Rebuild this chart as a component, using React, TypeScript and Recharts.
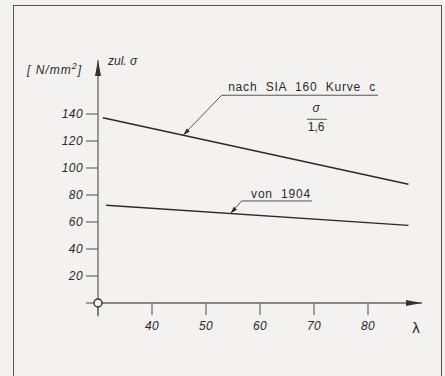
import React from 'react';
import { LineChart, Line, XAxis, YAxis, ReferenceLine, ReferenceDot } from 'recharts';

// ---- data ----
const LAMBDA_SIA = [30.9, 87.5];
const SIGMA_SIA = [137.3, 87.9];
const LAMBDA_1904 = [31.5, 87.5];
const SIGMA_1904 = [72.4, 57.5];
const X_TICKS = [30, 40, 50, 60, 70, 80];
const Y_TICKS = [0, 20, 40, 60, 80, 100, 120, 140];
const X_DOMAIN = [30, 90];
const Y_DOMAIN = [0, 180];

// ---- texts ----
const LABEL_SIA = 'nach  SIA  160  Kurve  c';
const LABEL_1904 = 'von  1904';
const FRAC_NUM = 'σ';
const FRAC_DEN = '1,6';
const Y_TITLE = 'zul. σ';
const Y_UNIT_MAIN = '[ N/mm';
const Y_UNIT_SUP = '2';
const Y_UNIT_END = ']';
const X_TITLE = 'λ';

// ---- annotation anchors (data coordinates) ----
const SIA_LEADER = [
  { x: 45.8, y: 124.5 },
  { x: 52.9, y: 153.9 },
  { x: 81.85, y: 153.9 },
];
const V1904_LEADER = [
  { x: 54.57, y: 66.4 },
  { x: 56.6, y: 75.6 },
  { x: 69.6, y: 75.6 },
];
const SIA_TEXT_POS = { x: 67.8, y: 160.0 };
const FRAC_NUM_POS = { x: 70.4, y: 144.2 };
const FRAC_BAR = [{ x: 68.7, y: 136.1 }, { x: 72.4, y: 136.1 }];
const FRAC_DEN_POS = { x: 70.4, y: 130.1 };
const V1904_TEXT_POS = { x: 63.9, y: 81.0 };
const Y_UNIT_POS = { x: 27.04, y: 172.4 };
const Y_TITLE_POS = { x: 31.85, y: 179.0 };
const X_TITLE_POS = { x: 88.9, y: -17.9 };

const siaData = LAMBDA_SIA.map((x, i) => ({ x, y: SIGMA_SIA[i] }));
const data1904 = LAMBDA_1904.map((x, i) => ({ x, y: SIGMA_1904[i] }));

const BG = '#f4f2f1';
const INK = '#2a2a2a';
const AXIS = '#666';
const FONT = '"Liberation Sans", Arial, sans-serif';

const textShape = (content: React.ReactNode, opts: any = {}) => (p: any) => (
  <text
    x={p.cx}
    y={p.cy}
    fill={INK}
    fontFamily={FONT}
    fontSize={opts.fontSize ?? 12}
    fontStyle={opts.italic ? 'italic' : 'normal'}
    textAnchor={opts.anchor ?? 'middle'}
    dominantBaseline="central"
    letterSpacing={opts.spacing ?? 0}
    style={{ whiteSpace: 'pre' }}
  >
    {content}
  </text>
);

const arrowHead = (angle: number, len = 7, half = 2.2, color = INK) => (p: any) => (
  <polygon
    points={`0,0 ${-len},${-half} ${-len},${half}`}
    transform={`translate(${p.cx},${p.cy}) rotate(${angle})`}
    fill={color}
  />
);

const originCircle = (p: any) => (
  <circle cx={p.cx} cy={p.cy} r={4} fill={BG} stroke="#333" strokeWidth={1.4} />
);

export default function App() {
  return (
    <div
      style={{
        position: 'fixed',
        left: 0,
        top: 0,
        width: 445,
        height: 376,
        background: BG,
        overflow: 'hidden',
      }}
    >
      <div
        style={{
          position: 'absolute',
          left: 13,
          top: 5,
          width: 429,
          height: 420,
          border: '1.6px solid #555',
          boxSizing: 'border-box',
        }}
      />
      <div style={{ position: 'absolute', left: 0, top: 0 }}>
        <LineChart width={445} height={376} margin={{ top: 60, right: 23, bottom: 0, left: 0 }}>
          <XAxis
            type="number"
            dataKey="x"
            domain={X_DOMAIN}
            ticks={X_TICKS}
            allowDataOverflow
            height={73}
            tickSize={12}
            tickMargin={6}
            tickFormatter={(v: number) => (v === 30 ? '' : String(v))}
            axisLine={{ stroke: AXIS, strokeWidth: 1.3 }}
            tickLine={{ stroke: AXIS, strokeWidth: 1.2 }}
            tick={{ fill: INK, fontSize: 12, fontStyle: 'italic', fontFamily: FONT, letterSpacing: 0.4 }}
          />
          <YAxis
            type="number"
            domain={Y_DOMAIN}
            ticks={Y_TICKS}
            allowDataOverflow
            width={98}
            tickSize={12}
            tickMargin={3}
            tickFormatter={(v: number) => (v === 0 ? '' : String(v))}
            axisLine={{ stroke: AXIS, strokeWidth: 1.3 }}
            tickLine={{ stroke: AXIS, strokeWidth: 1.2 }}
            tick={{ fill: INK, fontSize: 12, fontStyle: 'italic', fontFamily: FONT, letterSpacing: 0.4 }}
          />
          <Line
            data={siaData}
            dataKey="y"
            type="linear"
            stroke={INK}
            strokeWidth={1.5}
            dot={false}
            isAnimationActive={false}
          />
          <Line
            data={data1904}
            dataKey="y"
            type="linear"
            stroke={INK}
            strokeWidth={1.5}
            dot={false}
            isAnimationActive={false}
          />

          {/* axis extensions */}
          <ReferenceLine
            segment={[{ x: 30, y: 0 }, { x: 30, y: -10 }]}
            stroke={AXIS}
            strokeWidth={1.3}
            ifOverflow="visible"
          />
          <ReferenceDot x={X_DOMAIN[1]} y={0} r={0} ifOverflow="visible" shape={arrowHead(0, 16, 3, '#333')} />
          <ReferenceDot x={30} y={Y_DOMAIN[1]} r={0} ifOverflow="visible" shape={arrowHead(-90, 16, 3, '#333')} />
          <ReferenceDot x={30} y={0} r={4} ifOverflow="visible" shape={originCircle} />

          {/* SIA leader */}
          <ReferenceLine segment={[SIA_LEADER[0], SIA_LEADER[1]]} stroke="#555" strokeWidth={1} ifOverflow="visible" />
          <ReferenceLine segment={[SIA_LEADER[1], SIA_LEADER[2]]} stroke="#555" strokeWidth={1} ifOverflow="visible" />
          <ReferenceDot x={SIA_LEADER[0].x} y={SIA_LEADER[0].y} r={0} ifOverflow="visible" shape={arrowHead(135)} />
          <ReferenceDot
            x={SIA_TEXT_POS.x}
            y={SIA_TEXT_POS.y}
            r={0}
            ifOverflow="visible"
            shape={textShape(LABEL_SIA, { spacing: 0.8 })}
          />
          <ReferenceDot
            x={FRAC_NUM_POS.x}
            y={FRAC_NUM_POS.y}
            r={0}
            ifOverflow="visible"
            shape={textShape(FRAC_NUM, { italic: true })}
          />
          <ReferenceLine segment={FRAC_BAR} stroke="#555" strokeWidth={1} ifOverflow="visible" />
          <ReferenceDot
            x={FRAC_DEN_POS.x}
            y={FRAC_DEN_POS.y}
            r={0}
            ifOverflow="visible"
            shape={textShape(FRAC_DEN)}
          />

          {/* 1904 leader */}
          <ReferenceLine segment={[V1904_LEADER[0], V1904_LEADER[1]]} stroke="#555" strokeWidth={1} ifOverflow="visible" />
          <ReferenceLine segment={[V1904_LEADER[1], V1904_LEADER[2]]} stroke="#555" strokeWidth={1} ifOverflow="visible" />
          <ReferenceDot x={V1904_LEADER[0].x} y={V1904_LEADER[0].y} r={0} ifOverflow="visible" shape={arrowHead(132)} />
          <ReferenceDot
            x={V1904_TEXT_POS.x}
            y={V1904_TEXT_POS.y}
            r={0}
            ifOverflow="visible"
            shape={textShape(LABEL_1904, { spacing: 0.8 })}
          />

          {/* axis titles */}
          <ReferenceDot
            x={Y_UNIT_POS.x}
            y={Y_UNIT_POS.y}
            r={0}
            ifOverflow="visible"
            shape={textShape(
              <>
                {Y_UNIT_MAIN}
                <tspan dy={-4} fontSize={9}>{Y_UNIT_SUP}</tspan>
                <tspan dy={4}>{Y_UNIT_END}</tspan>
              </>,
              { italic: true, anchor: 'end', spacing: 1 }
            )}
          />
          <ReferenceDot
            x={Y_TITLE_POS.x}
            y={Y_TITLE_POS.y}
            r={0}
            ifOverflow="visible"
            shape={textShape(Y_TITLE, { italic: true, anchor: 'start' })}
          />
          <ReferenceDot
            x={X_TITLE_POS.x}
            y={X_TITLE_POS.y}
            r={0}
            ifOverflow="visible"
            shape={textShape(X_TITLE, { fontSize: 15 })}
          />
        </LineChart>
      </div>
    </div>
  );
}
